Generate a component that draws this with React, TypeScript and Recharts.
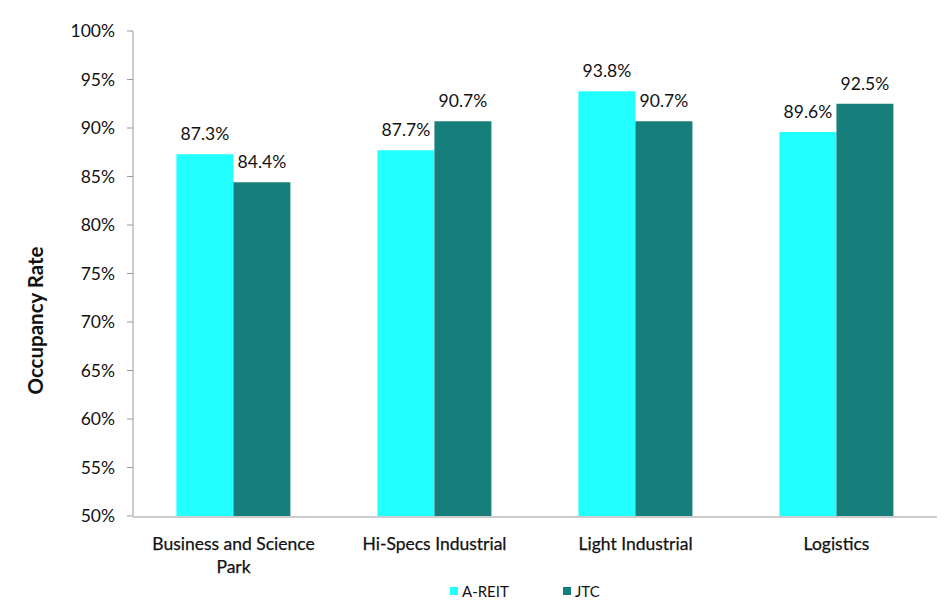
import React from "react";
import { BarChart, Bar, XAxis, YAxis, LabelList } from "recharts";

const categories = ["Business and Science Park", "Hi-Specs Industrial", "Light Industrial", "Logistics"];
const categoryLines = [["Business and Science", "Park"], ["Hi-Specs Industrial"], ["Light Industrial"], ["Logistics"]];
const areitValues = [87.3, 87.7, 93.8, 89.6];
const jtcValues = [84.4, 90.7, 90.7, 92.5];
const yTicks = [50, 55, 60, 65, 70, 75, 80, 85, 90, 95, 100];
const boundaryTicks = [0, 1, 2, 3, 4];
const seriesNames = ["A-REIT", "JTC"];

const data = categories.map((c, i) => ({ name: c, idx: i, areit: areitValues[i], jtc: jtcValues[i] }));

const FONT = "Lato, 'Open Sans', sans-serif";
const CYAN = "#22FFFF";
const TEAL = "#177F7B";
const AXIS = "#9A9A9A";

const CatTick = (props: any) => {
  const { x, y, payload } = props;
  const lines = categoryLines[payload.index] || [String(payload.value)];
  return (
    <text x={x} y={y + 26} textAnchor="middle" fontFamily={FONT} fontSize={17.5} fill="#111" stroke="#111" strokeWidth={0.25}>
      {lines.map((l, i) => (
        <tspan key={i} x={x} dy={i === 0 ? 0 : 23}>{l}</tspan>
      ))}
    </text>
  );
};

const YTitle = (props: any) => {
  const vb = props.viewBox || { x: 0, y: 23, height: 487 };
  const cx = 27;
  const cy = vb.y + vb.height / 2 + 47;
  return (
    <text
      x={cx}
      y={cy}
      transform={`rotate(-90 ${cx} ${cy})`}
      textAnchor="middle"
      dominantBaseline="central"
      fontFamily={FONT}
      fontSize={20.5}
      fontWeight={700}
      fill="#111"
    >
      Occupancy Rate
    </text>
  );
};

const legendLefts = [442, 555];

export default function App() {
  return (
    <div style={{ position: "relative", width: 935, height: 592 }}>
      <BarChart
        width={935}
        height={592}
        data={data}
        margin={{ top: 23, right: 6, bottom: 82, left: 0 }}
        barCategoryGap="21.6%"
        barGap={0}
      >
        <XAxis
          xAxisId="cat"
          dataKey="name"
          axisLine={false}
          tickLine={false}
          tick={<CatTick />}
          interval={0}
          height={1}
        />
        <XAxis
          xAxisId="edge"
          type="number"
          dataKey="idx"
          domain={[0, 4]}
          ticks={boundaryTicks}
          tick={false}
          tickLine={{ stroke: AXIS }}
          tickSize={7}
          axisLine={{ stroke: AXIS }}
          height={1}
          allowDataOverflow
        />
        <YAxis
          domain={[50, 100]}
          ticks={yTicks}
          tickFormatter={(v: number) => `${v}%`}
          axisLine={{ stroke: AXIS }}
          tickLine={{ stroke: AXIS }}
          tickSize={6}
          tickMargin={12}
          width={125}
          allowDataOverflow
          tick={{ fontFamily: FONT, fontSize: 17.5, fill: "#111" }}
          label={<YTitle />}
        />
        <Bar xAxisId="cat" dataKey="areit" name="A-REIT" fill={CYAN} isAnimationActive={false}>
          <LabelList
            dataKey="areit"
            position="top"
            offset={14}
            formatter={(v: number) => `${v.toFixed(1)}%`}
            style={{ fontFamily: FONT, fontSize: 17.5, fill: "#111" }}
          />
        </Bar>
        <Bar xAxisId="cat" dataKey="jtc" name="JTC" fill={TEAL} isAnimationActive={false}>
          <LabelList
            dataKey="jtc"
            position="top"
            offset={14}
            formatter={(v: number) => `${v.toFixed(1)}%`}
            style={{ fontFamily: FONT, fontSize: 17.5, fill: "#111" }}
          />
        </Bar>
      </BarChart>
      {seriesNames.map((n, i) => (
        <div
          key={n}
          style={{
            position: "absolute",
            top: 574,
            left: legendLefts[i],
            display: "flex",
            alignItems: "center",
            fontFamily: FONT,
            fontSize: 15,
            color: "#111",
            lineHeight: "18px",
          }}
        >
          <span style={{ width: 8, height: 8, background: i === 0 ? CYAN : TEAL, display: "inline-block", marginRight: 4 }} />
          <span>{n}</span>
        </div>
      ))}
    </div>
  );
}
